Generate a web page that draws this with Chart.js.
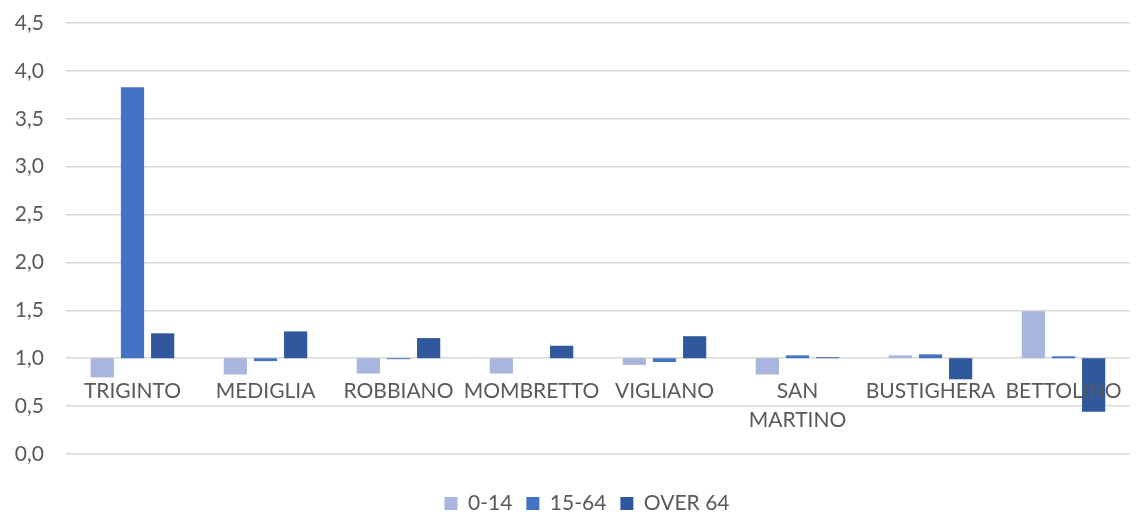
<!DOCTYPE html>
<html>
<head>
<meta charset="utf-8">
<script src="https://cdn.jsdelivr.net/npm/chart.js@4/dist/chart.umd.min.js"></script>
<style>
  html, body { margin: 0; padding: 0; background: #ffffff; }
  #wrap { width: 1137px; height: 514px; position: relative; }
</style>
</head>
<body>
<div id="wrap"><canvas id="c"></canvas></div>
<script>
const categories = ['TRIGINTO', 'MEDIGLIA', 'ROBBIANO', 'MOMBRETTO', 'VIGLIANO', ['SAN', 'MARTINO'], 'BUSTIGHERA', 'BETTOLINO'];
const seriesNames = ['0-14', '15-64', 'OVER 64'];
const values0_14 = [0.80, 0.83, 0.84, 0.84, 0.93, 0.83, 1.03, 1.49];
const values15_64 = [3.83, 0.97, 0.99, 1.00, 0.96, 1.03, 1.04, 1.02];
const valuesOver64 = [1.26, 1.28, 1.21, 1.13, 1.23, 1.01, 0.78, 0.44];
const baseValue = 1.0;
const yTicks = [0, 0.5, 1, 1.5, 2, 2.5, 3, 3.5, 4, 4.5];

const colors = ['#a8b5dc', '#4472c4', '#30599d'];
const seriesValues = [values0_14, values15_64, valuesOver64];
const FONT = 'Lato, "Open Sans", sans-serif';

const shiftLegend = {
  id: 'shiftLegend',
  afterLayout(chart) {
    if (chart.legend) { chart.legend.left += 22; chart.legend.right += 22; }
  }
};

new Chart(document.getElementById('c'), {
  type: 'bar',
  data: {
    labels: categories,
    datasets: seriesValues.map((vals, i) => ({
      label: seriesNames[i],
      data: vals.map(v => [baseValue, v]),
      backgroundColor: colors[i],
      borderWidth: 0,
      categoryPercentage: 0.68,
      barPercentage: 0.77
    }))
  },
  plugins: [shiftLegend],
  options: {
    responsive: true,
    maintainAspectRatio: false,
    animation: false,
    layout: { padding: { top: 23, right: 7, bottom: -10, left: 0 } },
    plugins: {
      legend: {
        position: 'bottom',
        title: { display: true, text: ' ', font: { size: 25, lineHeight: 1 }, padding: 0 },
        labels: {
          color: '#595959',
          font: { family: FONT, size: 21 },
          boxWidth: 13,
          boxHeight: 13,
          padding: 14
        }
      },
      tooltip: { enabled: false }
    },
    scales: {
      y: {
        min: yTicks[0],
        max: yTicks[yTicks.length - 1],
        afterBuildTicks: (s) => { s.ticks = yTicks.map(v => ({ value: v })); },
        afterFit: (s) => { s.width = 66; s.paddingTop = 0; s.paddingBottom = 0; },
        border: { display: false },
        grid: { color: '#d9d9d9', lineWidth: 1.5, drawTicks: false },
        ticks: {
          color: '#595959',
          font: { family: FONT, size: 21 },
          padding: 22,
          callback: (v) => Number(v).toFixed(1).replace('.', ',')
        }
      },
      x: {
        position: { y: baseValue },
        z: 1,
        afterFit: (s) => { s.paddingLeft = 0; s.paddingRight = 0; },
        border: { display: false },
        grid: { display: false, drawTicks: false },
        ticks: {
          z: 1,
          color: '#595959',
          font: { family: FONT, size: 21, lineHeight: 1.35 },
          padding: 19,
          maxRotation: 0,
          autoSkip: false
        }
      }
    }
  }
});
</script>
</body>
</html>
